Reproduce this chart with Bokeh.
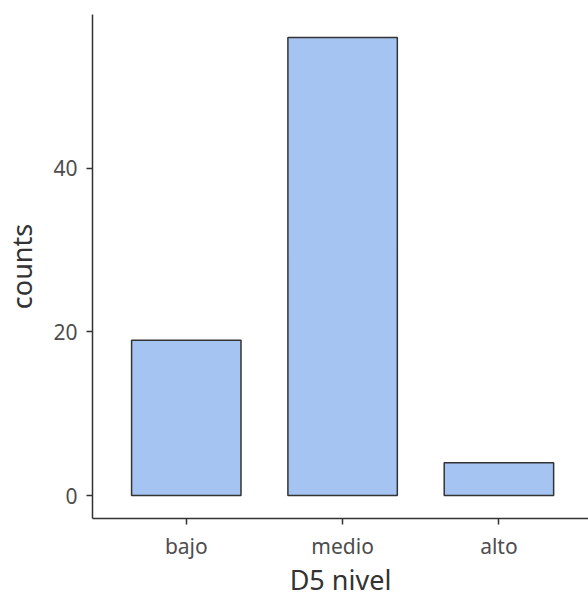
from bokeh.plotting import figure
from bokeh.models import Range1d, FixedTicker
from bokeh.embed import file_html
from bokeh.resources import INLINE

categories = ["bajo", "medio", "alto"]
counts = [19, 56, 4]
y_ticks = [0, 20, 40]
x_title = "D5 nivel"
y_title = "counts"

xs = [i + 1 for i in range(len(categories))]

p = figure(width=588, height=601, output_backend="svg", toolbar_location=None,
           x_range=Range1d(0.4, 3.573), y_range=Range1d(-2.8, 58.8),
           min_border_left=92, min_border_right=0, min_border_top=14, min_border_bottom=83)

p.vbar(x=xs, top=counts, bottom=0, width=0.7, fill_color="#A6C4F1",
       line_color="#333333", line_width=1.5)

p.xgrid.visible = False
p.ygrid.visible = False
p.outline_line_color = None

font = "Noto Sans"
for ax in (p.xaxis[0], p.yaxis[0]):
    ax.axis_line_color = "#333333"
    ax.axis_line_width = 1.5
    ax.major_tick_line_color = "#333333"
    ax.major_tick_line_width = 1.5
    ax.major_tick_out = 6
    ax.major_tick_in = 0
    ax.minor_tick_line_color = None
    ax.major_label_text_font = font
    ax.major_label_text_font_size = "21px"
    ax.major_label_text_color = "#4d4d4d"
    ax.major_label_text_line_height = 1.0
    ax.axis_label_text_font = font
    ax.axis_label_text_font_size = "27px"
    ax.axis_label_text_font_style = "normal"
    ax.axis_label_text_color = "#333333"
    ax.axis_label_text_line_height = 1.0

p.xaxis.ticker = FixedTicker(ticks=xs)
p.xaxis.major_label_overrides = {x: c for x, c in zip(xs, categories)}
p.xaxis.axis_label = x_title
p.xaxis.major_label_standoff = 7
p.xaxis.axis_label_standoff = -2

p.yaxis.ticker = FixedTicker(ticks=y_ticks)
p.yaxis.axis_label = y_title
p.yaxis.major_label_standoff = 9
p.yaxis.axis_label_standoff = 10

open("out.html", "w").write(file_html(p, INLINE))
